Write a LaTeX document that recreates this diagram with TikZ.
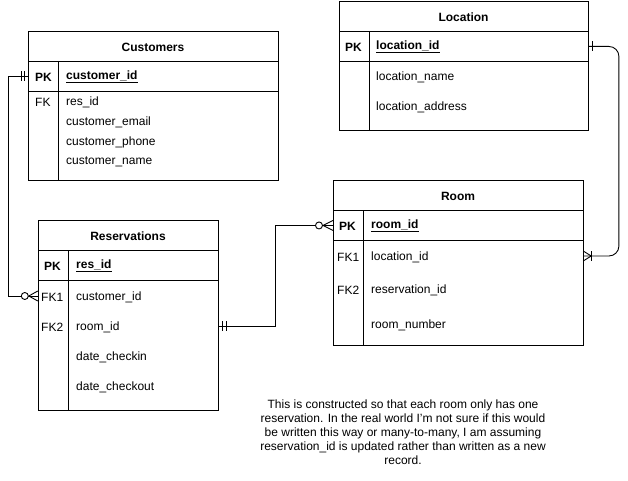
\documentclass[tikz,border=0pt]{standalone}
\usepackage{fontspec}
\setmainfont{Liberation Sans}
\usetikzlibrary{calc}
\begin{document}
\begin{tikzpicture}[x=1pt,y=-1pt,
  tblbox/.style={draw, line width=0.9pt, inner sep=0pt, anchor=north west},
  rowbox/.style={draw, line width=0.9pt, inner sep=0pt, anchor=north west},
  rowspan/.style={inner sep=0pt},
  ttl/.style={font=\fontsize{12}{14}\selectfont\bfseries, inner sep=0pt, yshift=-1.2pt},
  fld/.style={font=\fontsize{12}{14}\selectfont, anchor=west, inner sep=0pt, yshift=-1.2pt},
  keyfld/.style={font=\fontsize{12}{14}\selectfont\bfseries, anchor=west, inner sep=0pt, yshift=-1.2pt},
  conn/.style={draw, line width=0.9pt},
  tick/.style={draw, line width=0.9pt},
  note/.style={font=\fontsize{12}{14}\selectfont, align=center, inner sep=0pt}
]
\useasboundingbox (0,0) rectangle (628,481);

% ---------- Customers ----------
\node[tblbox, minimum width=250, minimum height=149] (cust) at (28,31) {};
\node[ttl] (custT) at (153,46) {Customers};
\node[rowbox, minimum width=250, minimum height=30] (custPK) at (28,61) {};
\draw[line width=0.9pt] (58,61) -- (58,180);
\node[keyfld] (custPKk) at (35,76) {PK};
\node[keyfld] (custPKf) at (66,76) {\underline{customer\_id}};
\node[fld] (custFKk) at (35,101) {FK};
\node[fld] (custF1) at (66,101) {res\_id};
\node[fld] (custF2) at (66,121) {customer\_email};
\node[fld] (custF3) at (66,141) {customer\_phone};
\node[fld] (custF4) at (66,161) {customer\_name};

% ---------- Location ----------
\node[tblbox, minimum width=249, minimum height=129] (loc) at (339,1) {};
\node[ttl] (locT) at (463.5,16) {Location};
\node[rowbox, minimum width=249, minimum height=30] (locPK) at (339,31) {};
\draw[line width=0.9pt] (369,31) -- (369,130);
\node[keyfld] (locPKk) at (345,46) {PK};
\node[keyfld] (locPKf) at (376,46) {\underline{location\_id}};
\node[fld] (locF1) at (376,76) {location\_name};
\node[fld] (locF2) at (376,106) {location\_address};

% ---------- Room ----------
\node[tblbox, minimum width=250, minimum height=165] (room) at (333,180) {};
\node[ttl] (roomT) at (458,195) {Room};
\node[rowbox, minimum width=250, minimum height=30] (roomPK) at (333,210) {};
\draw[line width=0.9pt] (363,210) -- (363,345);
\node[keyfld] (roomPKk) at (339,225) {PK};
\node[keyfld] (roomPKf) at (371,225) {\underline{room\_id}};
\node[rowspan, minimum width=250, minimum height=30] (roomFK1) at (458,256) {};
\node[fld] (roomFK1k) at (337,256) {FK1};
\node[fld] (roomF1) at (371,256) {location\_id};
\node[fld] (roomFK2k) at (337,289) {FK2};
\node[fld] (roomF2) at (371,289) {reservation\_id};
\node[fld] (roomF3) at (371,324) {room\_number};

% ---------- Reservations ----------
\node[tblbox, minimum width=180, minimum height=190] (res) at (38,220) {};
\node[ttl] (resT) at (128,235) {Reservations};
\node[rowbox, minimum width=180, minimum height=30] (resPK) at (38,250) {};
\draw[line width=0.9pt] (68,250) -- (68,410);
\node[keyfld] (resPKk) at (44,265) {PK};
\node[keyfld] (resPKf) at (76,265) {\underline{res\_id}};
\node[rowspan, minimum width=180, minimum height=30] (resFK1) at (128,296) {};
\node[fld] (resFK1k) at (41,296) {FK1};
\node[fld] (resF1) at (76,296) {customer\_id};
\node[rowspan, minimum width=180, minimum height=30] (resFK2) at (128,326) {};
\node[fld] (resFK2k) at (41,326) {FK2};
\node[fld] (resF2) at (76,326) {room\_id};
\node[fld] (resF3) at (76,356) {date\_checkin};
\node[fld] (resF4) at (76,386) {date\_checkout};

% ---------- Relationships ----------
% Customers (one, mandatory) -- Reservations (zero or many)
\draw[conn] (custPK.west) -- ++(-20,0) |- (resFK1.west);
\draw[tick] ($(custPK.west)+(-7,-5)$) -- ($(custPK.west)+(-7,5)$);
\draw[tick] ($(custPK.west)+(-4,-5)$) -- ($(custPK.west)+(-4,5)$);
\draw[tick] ($(resFK1.west)+(-9,0)$) -- ($(resFK1.west)+(0,-5)$);
\draw[tick] ($(resFK1.west)+(-9,0)$) -- ($(resFK1.west)+(0,5)$);
\draw[tick, fill=white] ($(resFK1.west)+(-13,0)$) circle[radius=3.5];

% Reservations (one, mandatory) -- Room (zero or many)
\draw[conn] (resFK2.east) -- ++(57,0) |- (roomPK.west);
\draw[tick] ($(resFK2.east)+(4,-5)$) -- ($(resFK2.east)+(4,5)$);
\draw[tick] ($(resFK2.east)+(8,-5)$) -- ($(resFK2.east)+(8,5)$);
\draw[tick] ($(roomPK.west)+(-10,0)$) -- ($(roomPK.west)+(0,-5)$);
\draw[tick] ($(roomPK.west)+(-10,0)$) -- ($(roomPK.west)+(0,5)$);
\draw[tick, fill=white] ($(roomPK.west)+(-14,0)$) circle[radius=3.5];

% Location (one) -- Room (one or many)
\draw[conn, rounded corners=10] (locPK.east) -- ++(30,0) |- (roomFK1.east);
\draw[tick] ($(locPK.east)+(4,-5)$) -- ($(locPK.east)+(4,5)$);
\draw[tick] ($(roomFK1.east)+(8,-5)$) -- ($(roomFK1.east)+(8,5)$);
\draw[tick] ($(roomFK1.east)+(8,0)$) -- ($(roomFK1.east)+(0,-5)$);
\draw[tick] ($(roomFK1.east)+(8,0)$) -- ($(roomFK1.east)+(0,5)$);

% ---------- Note ----------
\node[note] (memo) at (403,432) {This is constructed so that each room only has one\\
reservation. In the real world I'm not sure if this would\\
be written this way or many-to-many, I am assuming\\
reservation\_id is updated rather than written as a new\\
record.};
\end{tikzpicture}
\end{document}
